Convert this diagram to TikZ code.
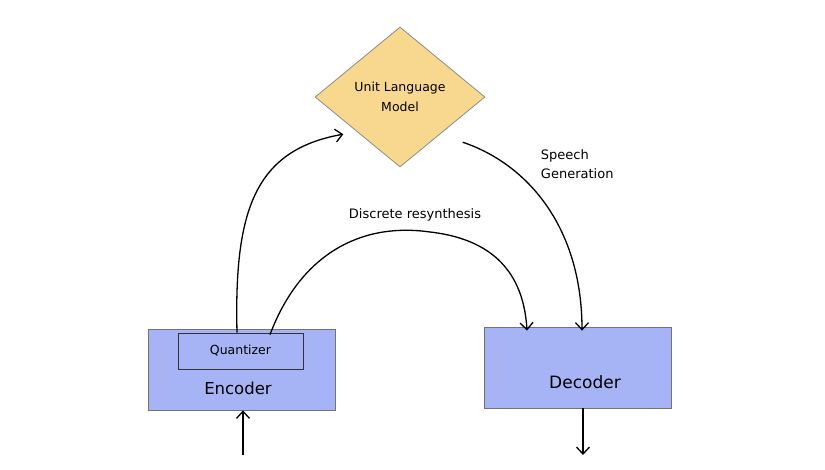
\documentclass[tikz,border=0pt]{standalone}
\usepackage{fontspec}
\setmainfont{DejaVu Sans}
\usepackage{tikz}
\usetikzlibrary{arrows.meta,shapes.geometric,positioning,calc}
\definecolor{lmyellow}{RGB}{248,216,142}
\definecolor{blockblue}{RGB}{166,180,245}
\tikzset{>={Straight Barb[length=7pt,width=13pt]}}

\begin{document}
\begin{tikzpicture}[x=1pt,y=-1pt,line width=1.3pt,
	block/.style={draw=black!55,line width=0.8pt,fill=blockblue,minimum width=187pt,minimum height=81pt},
	lbl/.style={font=\fontsize{13}{19}\selectfont,align=left}]
		\useasboundingbox (0,0) rectangle (825,470);
		\node[diamond,draw=black!45,line width=0.8pt,fill=lmyellow,minimum width=170pt,minimum height=140pt,inner sep=0pt,align=center,font=\fontsize{12.5}{20}\selectfont] (lm) at (400,97) {Unit Language\\Model};
		\node[block] (enc) at (241.5,369.5) {};
		\node[draw=black!80,line width=0.8pt,minimum width=125pt,minimum height=36pt,font=\fontsize{12.5}{15}\selectfont] (quant) at (240.5,351) {Quantizer};
		\node[font=\fontsize{16.5}{18}\selectfont] (enclab) at (238,388) {Encoder};
		\node[block] (dec) at (578,367.5) {};
		\node[font=\fontsize{17}{19}\selectfont] (declab) at (585,382) {Decoder};
		\node[lbl] (resyn) at (415,215) {Discrete resynthesis};
		\node[lbl,anchor=west] (speech) at (537,164) {Speech\\Generation};
		\coordinate (in) at (243,455);
		\coordinate (out) at (583,455);
		% arrows
		\draw[->] ([xshift=-4.5pt,yshift=-4pt]enc.north) .. controls (234,210) and (255,150) .. ([xshift=-14pt,yshift=-2pt]lm.south west);
		\draw[->] ([xshift=28.5pt,yshift=-6pt]enc.north) .. controls (300,255) and (360,222) .. (430,232) .. controls (500,240) and (524,280) .. ([xshift=-51pt,yshift=-4pt]dec.north);
		\draw[->] ([xshift=20pt,yshift=-10pt]lm.south east) .. controls (530,165) and (582,230) .. ([xshift=4pt,yshift=-4pt]dec.north);
		\draw[->] (in) -- (enc.south -| in);
		\draw[->] (dec.south -| out) -- (out);
	\end{tikzpicture}
\end{document}
